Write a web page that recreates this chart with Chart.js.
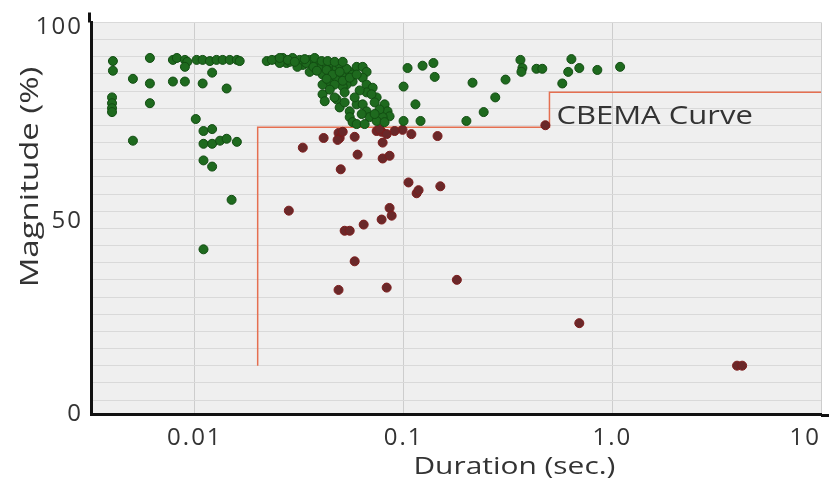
<!DOCTYPE html>
<html>
<head>
<meta charset="utf-8">
<script src="https://cdn.jsdelivr.net/npm/chart.js@4/dist/chart.umd.min.js"></script>
<style>
  html, body { margin: 0; padding: 0; background: #fff; }
  #wrap { width: 831px; height: 484px; }
</style>
</head>
<body>
<div id="wrap"><canvas id="chart" width="831" height="484"></canvas></div>
<script>
// durations in seconds, magnitudes in %
const greenDur = [
  0.00405, 0.00405, 0.00609, 0.00505, 0.00609, 0.00401, 0.00401, 0.00401, 0.00401, 0.00609,
  0.00785, 0.0082, 0.00896, 0.0092, 0.00896, 0.0102, 0.0109, 0.0118, 0.0127, 0.0136,
  0.0147, 0.0159, 0.0164, 0.00785, 0.00896, 0.0109, 0.0121, 0.0142, 0.0101, 0.0110,
  0.0121, 0.00505, 0.0110, 0.0121, 0.0132, 0.0142, 0.0159, 0.0110, 0.0121, 0.0150,
  0.0110,
  0.0221, 0.0247, 0.0264, 0.0275, 0.0294, 0.0318, 0.0329, 0.0355, 0.0355, 0.0384,
  0.0396, 0.0409, 0.0428, 0.0443, 0.0457, 0.0478, 0.0494, 0.0409, 0.0443, 0.0478,
  0.0511, 0.0552, 0.0596, 0.0637, 0.0665, 0.0637, 0.0570, 0.0533, 0.0665, 0.0711,
  0.0665, 0.0409, 0.0419, 0.0478, 0.0494, 0.0552, 0.0552, 0.0596, 0.0637, 0.0665,
  0.0687, 0.0743, 0.0811, 0.0838, 0.0857, 0.0794, 0.0743, 0.0570,
  0.0255, 0.0285, 0.0310, 0.0342, 0.0370, 0.0533, 0.0570, 0.0511, 0.0702, 0.0467, 0.0596,
  0.0234, 0.0255, 0.0279, 0.0301, 0.0336, 0.0375, 0.0405, 0.0433, 0.0468, 0.0511,
  0.0428, 0.0457, 0.0494, 0.0384, 0.0428, 0.0467, 0.0511, 0.0552, 0.0596, 0.0443,
  0.0522, 0.0616, 0.0727, 0.0767, 0.0630, 0.0727, 0.0522, 0.0583, 0.0811, 0.0651,
  0.1045, 0.1233, 0.139, 0.141, 0.100, 0.114, 0.100, 0.1206, 0.214, 0.200,
  0.242, 0.275, 0.308, 0.363, 0.371, 0.367, 0.433, 0.462, 0.637, 0.615,
  0.695, 0.576, 0.848, 1.09
];
const greenMag = [
  91.3, 88.8, 92.1, 86.7, 85.5, 81.9, 80.4, 79.1, 78.1, 80.4,
  91.6, 92.1, 91.6, 91.1, 89.8, 91.6, 91.6, 91.3, 91.6, 91.6,
  91.6, 91.6, 91.3, 86.0, 86.0, 85.5, 88.3, 84.2, 76.3, 73.2,
  73.7, 70.7, 69.9, 69.9, 70.7, 71.2, 70.4, 65.6, 64.0, 55.4,
  42.6,
  91.3, 91.6, 92.1, 90.8, 92.1, 91.6, 90.3, 91.6, 88.5, 90.8,
  89.5, 87.8, 90.3, 88.5, 90.8, 89.5, 90.3, 85.2, 86.0, 87.0,
  87.8, 88.5, 89.8, 89.8, 88.5, 87.0, 86.0, 85.2, 85.2, 84.4,
  83.2, 82.7, 80.9, 81.4, 79.3, 78.3, 76.8, 80.1, 80.1, 78.3,
  76.8, 81.9, 80.1, 78.3, 77.0, 76.8, 75.8, 75.5,
  90.8, 91.1, 89.8, 90.8, 89.8, 89.3, 87.8, 84.7, 82.7, 81.9, 75.0,
  91.6, 92.1, 91.6, 91.1, 91.8, 92.1, 91.3, 91.3, 91.1, 91.1,
  89.0, 87.8, 88.5, 88.8, 86.7, 85.2, 86.2, 87.0, 87.8, 83.9,
  83.2, 83.7, 80.6, 78.8, 77.6, 77.6, 80.6, 81.9, 75.5, 75.0,
  89.5, 90.1, 90.8, 87.2, 84.7, 80.1, 75.8, 75.8, 85.7, 75.8,
  78.1, 81.9, 86.5, 91.6, 89.5, 88.5, 89.3, 89.3, 91.8, 88.5,
  89.5, 85.5, 89.0, 89.8
];

const redDur = [
  0.0329, 0.0414, 0.0488, 0.0494, 0.0483, 0.0511, 0.0583, 0.0602, 0.0500, 0.0743,
  0.0785, 0.0830, 0.0767, 0.0794, 0.0794, 0.0857, 0.0989, 0.109, 0.1455, 0.1056,
  0.1155, 0.118, 0.150, 0.0282, 0.0857, 0.0877, 0.0785, 0.0644, 0.0522, 0.0552,
  0.0583, 0.0488, 0.0830, 0.180, 0.695, 3.96, 4.19, 0.478, 0.0906
];
const redMag = [
  68.9, 71.4, 72.7, 71.4, 70.9, 73.0, 71.7, 67.1, 63.3, 73.2,
  73.0, 72.4, 73.7, 70.2, 66.1, 66.8, 73.5, 72.4, 71.9, 59.9,
  57.1, 57.9, 58.9, 52.6, 53.3, 51.3, 50.3, 49.0, 47.4, 47.4,
  39.5, 32.1, 32.7, 34.7, 23.5, 12.5, 12.5, 74.7, 73.2
];

// CBEMA tolerance curve
const cbemaDur = [0.02, 0.02, 0.5, 0.5, 10];
const cbemaMag = [12.5, 74.2, 74.2, 83.2, 83.2];
const cbemaLabel = 'CBEMA Curve';
const cbemaLabelDur = 0.54;
const cbemaLabelMag = 76.8;

// axes
const xMin = 0.00318;
const xMax = 10;
const xTickValues = [0.01, 0.1, 1, 10];
const xTickLabels = ['0.01', '0.1', '1.0', '10'];
const yMin = 0;
const yMax = 101.3;
const yTickValues = [0, 50, 100];
const yTickLabels = ['0', '50', '100'];
const yGridStart = 3.6;
const yGridStep = 4.44;

const xTitle = 'Duration (sec.)';
const yTitle = 'Magnitude (%)';

const FONT = '"Open Sans", "Liberation Sans", sans-serif';
const TEXT = '#333333';

const toPoints = (xs, ys) => xs.map((x, i) => ({ x, y: ys[i] }));

const yGrid = [];
for (let v = yGridStart; v <= yMax + 0.01; v += yGridStep) yGrid.push(v);

const plotBackground = {
  id: 'plotBackground',
  beforeDraw(chart) {
    const { ctx, chartArea: a } = chart;
    ctx.save();
    ctx.fillStyle = '#efefef';
    ctx.fillRect(a.left, a.top, a.right - a.left, a.bottom - a.top);
    ctx.restore();
    ctx.letterSpacing = '2px';
  }
};

function stretchedText(ctx, text, x, y, sx, rot) {
  ctx.save();
  ctx.translate(x, y);
  if (rot) ctx.rotate(rot);
  ctx.scale(sx, 1);
  ctx.fillText(text, 0, 0);
  ctx.restore();
}

const annotations = {
  id: 'annotations',
  afterDraw(chart) {
    const { ctx, chartArea: a, scales } = chart;
    ctx.save();
    ctx.letterSpacing = '0px';

    // axis lines run a little past the plot area
    ctx.strokeStyle = '#111111';
    ctx.lineWidth = 3;
    ctx.beginPath();
    ctx.moveTo(a.left - 1.5, a.top);
    ctx.lineTo(a.left - 1.5, a.top - 10);
    ctx.moveTo(a.right, a.bottom + 1.5);
    ctx.lineTo(a.right + 8, a.bottom + 1.5);
    ctx.stroke();

    ctx.fillStyle = TEXT;
    ctx.textBaseline = 'middle';

    ctx.font = '25px ' + FONT;
    ctx.textAlign = 'left';
    stretchedText(ctx, cbemaLabel,
      scales.x.getPixelForValue(cbemaLabelDur),
      scales.y.getPixelForValue(cbemaLabelMag), 1.24, 0);

    ctx.font = '23px ' + FONT;
    ctx.textAlign = 'center';
    stretchedText(ctx, xTitle, a.left + (a.right - a.left) * 0.58, a.bottom + 53, 1.3, 0);

    ctx.font = '25px ' + FONT;
    stretchedText(ctx, yTitle, 31, a.top + (a.bottom - a.top) * 0.395, 1.32, -Math.PI / 2);
    ctx.restore();
  }
};

new Chart(document.getElementById('chart'), {
  type: 'scatter',
  data: {
    datasets: [
      {
        label: 'Within tolerance',
        data: toPoints(greenDur, greenMag),
        backgroundColor: '#1e6a1e',
        borderColor: '#124d12',
        borderWidth: 1,
        pointRadius: 4.5,
        order: 1
      },
      {
        label: 'Outside tolerance',
        data: toPoints(redDur, redMag),
        backgroundColor: '#6a2829',
        borderColor: '#7d1c1c',
        borderWidth: 1,
        pointRadius: 4.5,
        order: 2
      },
      {
        label: cbemaLabel,
        data: toPoints(cbemaDur, cbemaMag),
        showLine: true,
        borderColor: '#e56f50',
        borderWidth: 1.5,
        pointRadius: 0,
        fill: false,
        order: 3
      }
    ]
  },
  options: {
    responsive: false,
    animation: false,
    events: [],
    layout: { padding: { top: 17, right: 10, left: 0, bottom: 0 } },
    plugins: {
      legend: { display: false },
      tooltip: { enabled: false }
    },
    scales: {
      x: {
        type: 'logarithmic',
        min: xMin,
        max: xMax,
        afterBuildTicks(scale) {
          scale.ticks = [{ value: xMin }].concat(xTickValues.map(v => ({ value: v })));
        },
        afterFit(scale) { scale.height = 70; },
        ticks: {
          autoSkip: false,
          maxRotation: 0,
          align: 'inner',
          padding: 10,
          color: TEXT,
          font: { family: FONT, size: 24 },
          callback(value) {
            const i = xTickValues.indexOf(value);
            return i < 0 ? '' : xTickLabels[i];
          }
        },
        grid: {
          drawTicks: false,
          lineWidth: 1,
          color: c => (c.tick && c.tick.value === xMin) ? 'rgba(0,0,0,0)' : '#cdcdcd'
        },
        border: { display: true, color: '#111111', width: 3 }
      },
      y: {
        min: yMin,
        max: yMax,
        afterBuildTicks(scale) {
          scale.ticks = yGrid.concat(yTickValues).sort((a, b) => a - b).map(v => ({ value: v }));
        },
        afterFit(scale) { scale.width = 91; },
        ticks: {
          autoSkip: false,
          padding: 8,
          color: TEXT,
          font: { family: FONT, size: 24 },
          callback(value) {
            const i = yTickValues.indexOf(value);
            return i < 0 ? '' : yTickLabels[i];
          }
        },
        grid: {
          drawTicks: false,
          lineWidth: 1,
          color: c => (c.tick && yTickValues.includes(c.tick.value)) ? 'rgba(0,0,0,0)' : '#d9d9d9'
        },
        border: { display: true, color: '#111111', width: 3 }
      }
    }
  },
  plugins: [plotBackground, annotations]
});
</script>
</body>
</html>
